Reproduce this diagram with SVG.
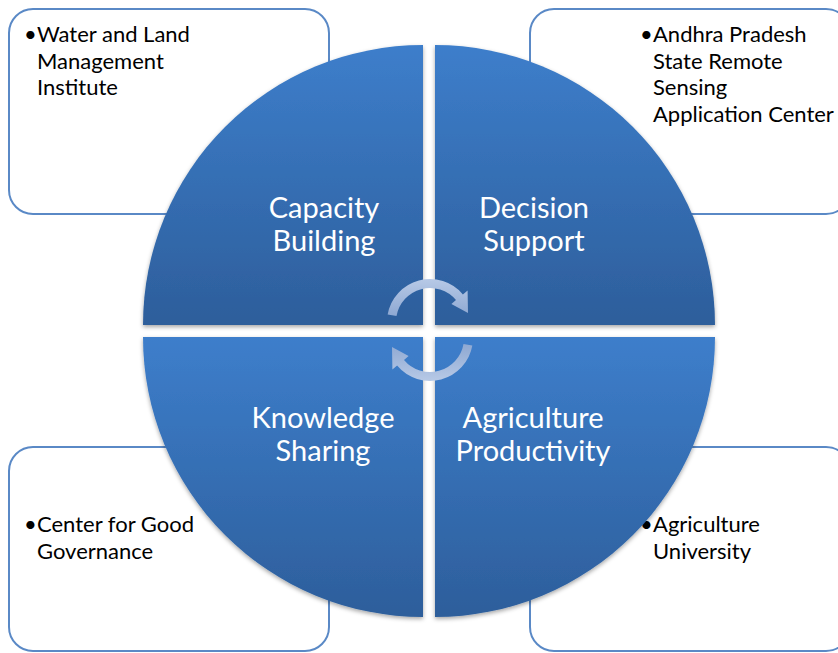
<svg xmlns="http://www.w3.org/2000/svg" width="838" height="653" viewBox="0 0 838 653">
<style>
.box{fill:#ffffff;stroke:#5a89c6;stroke-width:2}
.bt{font-family:Lato,"Liberation Sans",sans-serif;font-size:22px;fill:#000000}
.qt{font-family:Lato,"Liberation Sans",sans-serif;font-size:29px;fill:#ffffff;text-anchor:middle}
.q{filter:url(#sh)}
.arr{fill:url(#ag)}
</style>
<defs>
<linearGradient id="qg" x1="0" y1="0" x2="0" y2="1">
<stop offset="0" stop-color="#3d7ecb"/>
<stop offset="1" stop-color="#2d5e9b"/>
</linearGradient>
<linearGradient id="ag" x1="0" y1="0" x2="0" y2="1">
<stop offset="0" stop-color="#b7c9e6"/>
<stop offset="1" stop-color="#8ea8d2"/>
</linearGradient>
<filter id="sh" x="-10%" y="-10%" width="120%" height="120%">
<feDropShadow dx="0" dy="2" stdDeviation="2" flood-color="#000000" flood-opacity="0.35"/>
</filter>
</defs>
<rect width="838" height="653" fill="#ffffff"/>
<g id="box-tl">
<rect class="box" x="9" y="9" width="320" height="205" rx="24"/>
<text class="bt"><tspan x="24" y="42">•</tspan><tspan x="37" y="42">Water and Land</tspan><tspan x="37" y="68.5">Management</tspan><tspan x="37" y="95">Institute</tspan></text>
</g>
<g id="box-tr">
<rect class="box" x="530" y="9" width="320" height="205" rx="24"/>
<text class="bt"><tspan x="640" y="42">•</tspan><tspan x="653" y="42">Andhra Pradesh</tspan><tspan x="653" y="68.5">State Remote</tspan><tspan x="653" y="95">Sensing</tspan><tspan x="653" y="121.5">Application Center</tspan></text>
</g>
<g id="box-bl">
<rect class="box" x="9" y="447" width="320" height="204" rx="24"/>
<text class="bt"><tspan x="24" y="532">•</tspan><tspan x="37" y="532">Center for Good</tspan><tspan x="37" y="558.5">Governance</tspan></text>
</g>
<g id="box-br">
<rect class="box" x="530" y="447" width="320" height="204" rx="24"/>
<text class="bt"><tspan x="640" y="532">•</tspan><tspan x="653" y="532">Agriculture</tspan><tspan x="653" y="558.5">University</tspan></text>
</g>
<g id="q-capacity">
<path class="q" d="M423 325 L143 325 A280 280 0 0 1 423 45 Z" fill="url(#qg)"/>
<text class="qt"><tspan x="324" y="218">Capacity</tspan><tspan x="324" y="251">Building</tspan></text>
</g>
<g id="q-decision">
<path class="q" d="M435 325 L435 45 A280 280 0 0 1 715 325 Z" fill="url(#qg)"/>
<text class="qt"><tspan x="534" y="218">Decision</tspan><tspan x="534" y="251">Support</tspan></text>
</g>
<g id="q-knowledge">
<path class="q" d="M423 337 L423 617 A280 280 0 0 1 143 337 Z" fill="url(#qg)"/>
<text class="qt"><tspan x="323" y="428">Knowledge</tspan><tspan x="323" y="461">Sharing</tspan></text>
</g>
<g id="q-agriculture">
<path class="q" d="M435 337 L715 337 A280 280 0 0 1 435 617 Z" fill="url(#qg)"/>
<text class="qt"><tspan x="533" y="428">Agriculture</tspan><tspan x="533" y="461">Productivity</tspan></text>
</g>
<g id="connectors">
<path class="arr" d="M387.65 314.5 A43 43 0 0 1 462.9 294.4 L467.6 290.4 L468 313 L451.4 304 L456 300.1 A34 34 0 0 0 396.5 316.1 Z"/>
<path class="arr" transform="rotate(180 430 330)" d="M387.65 314.5 A43 43 0 0 1 462.9 294.4 L467.6 290.4 L468 313 L451.4 304 L456 300.1 A34 34 0 0 0 396.5 316.1 Z"/>
</g>
</svg>
